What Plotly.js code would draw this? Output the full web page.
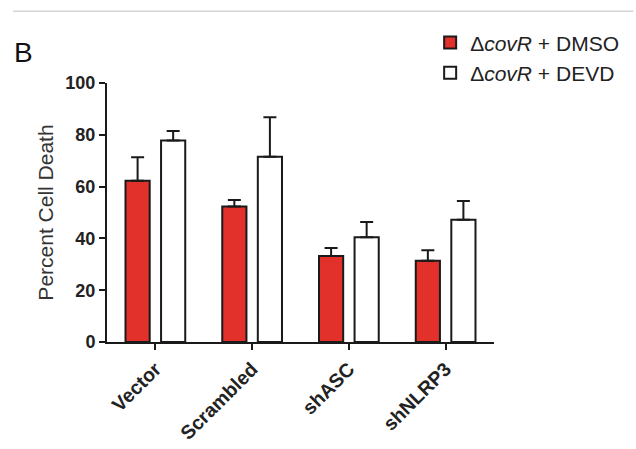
<!DOCTYPE html>
<html>
<head>
<meta charset="utf-8">
<script src="https://cdn.plot.ly/plotly-3.0.1.min.js"></script>
<style>html,body{margin:0;padding:0;background:#fff;}#chart{width:636px;height:449px;}</style>
</head>
<body>
<div id="chart"></div>
<script>
const categories = ["Vector", "Scrambled", "shASC", "shNLRP3"];
const dmsoValues = [62.3, 52.3, 33.2, 31.4];
const dmsoErrors = [9.0, 2.5, 3.1, 4.0];
const devdValues = [77.8, 71.5, 40.4, 47.2];
const devdErrors = [3.7, 15.3, 5.9, 7.2];
const yTicks = [0, 20, 40, 60, 80, 100];
const seriesNames = ["\u0394<i>covR</i> + DMSO", "\u0394<i>covR</i> + DEVD"];

const zeros = categories.map(() => 0);
const FONT = "Liberation Sans, Arial, sans-serif";

function errSpec(arr) {
  return {type: "data", symmetric: false, array: arr, arrayminus: zeros,
          color: "#1a1a1a", thickness: 2, width: 6.5};
}

const traces = [
  {type: "bar", x: categories, y: dmsoValues, name: seriesNames[0],
   marker: {color: "#e2312b", line: {color: "#1a1a1a", width: 2}},
   error_y: errSpec(dmsoErrors)},
  {type: "bar", x: categories, y: devdValues, name: seriesNames[1],
   marker: {color: "#ffffff", line: {color: "#1a1a1a", width: 2}},
   error_y: errSpec(devdErrors)}
];

const layout = {
  width: 636, height: 449,
  margin: {l: 107, r: 138, t: 83, b: 106.5, pad: 0},
  paper_bgcolor: "#fff", plot_bgcolor: "#fff",
  barmode: "group", bargap: 0.265, bargroupgap: 0.32,
  showlegend: true,
  legend: {x: 0.835, y: 1.234, xanchor: "left", yanchor: "top",
           font: {family: FONT, size: 21, color: "#222"},
           bgcolor: "rgba(0,0,0,0)", traceorder: "normal"},
  xaxis: {type: "category", range: [-0.5, 3.5], showgrid: false, zeroline: false,
          showline: true, linecolor: "#1a1a1a", linewidth: 2,
          ticks: "outside", ticklen: 6, tickwidth: 2, tickcolor: "#1a1a1a",
          tickangle: -45, tickfont: {family: FONT, size: 19.5, color: "#222", weight: "bold"},
          automargin: false, fixedrange: true},
  yaxis: {range: [0, 100], tickvals: yTicks, showgrid: false, zeroline: false,
          showline: true, linecolor: "#1a1a1a", linewidth: 2,
          ticks: "outside", ticklen: 6, tickwidth: 2, tickcolor: "#1a1a1a",
          tickfont: {family: FONT, size: 18, color: "#222", weight: "bold"},
          title: {text: "Percent Cell Death", font: {family: FONT, size: 21, color: "#333"}, standoff: 6},
          automargin: false, fixedrange: true},
  annotations: [
    {text: "B", xref: "paper", yref: "paper", x: -0.245, y: 1.119, xanchor: "left", yanchor: "middle",
     showarrow: false, font: {family: FONT, size: 28, color: "#111"}}
  ],
  shapes: [
    {type: "line", xref: "paper", yref: "paper", x0: -0.243, x1: 1.36, y0: 1.277, y1: 1.277,
     line: {color: "#d4d4d4", width: 1.5}}
  ]
};

Plotly.newPlot("chart", traces, layout, {displayModeBar: false, staticPlot: true});
</script>
</body>
</html>
